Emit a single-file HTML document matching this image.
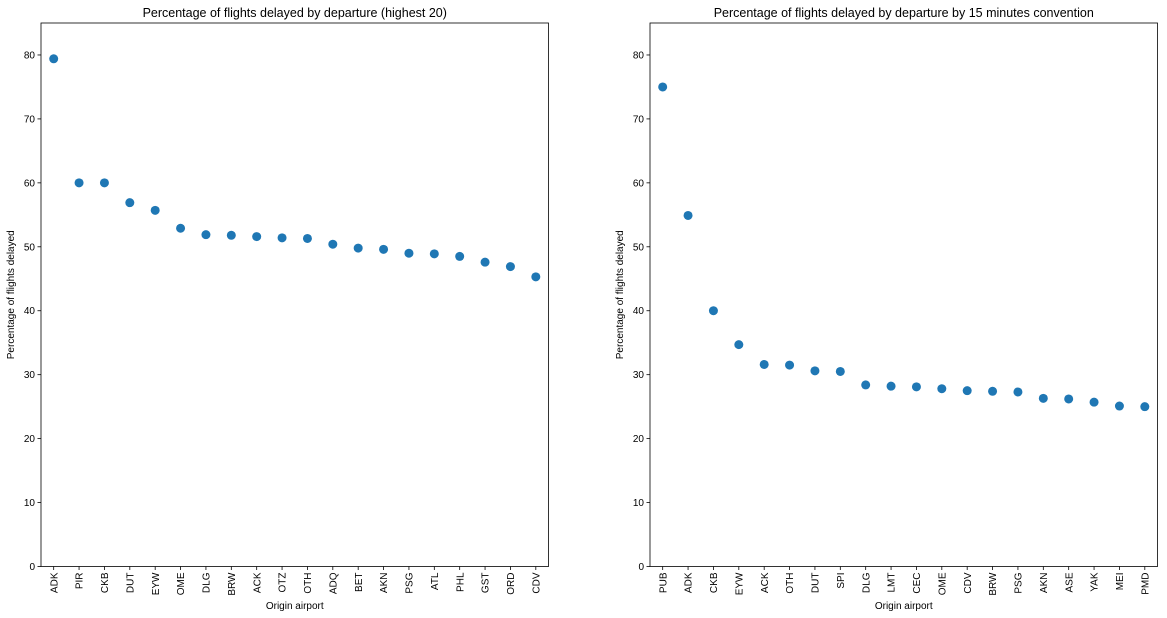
<!DOCTYPE html>
<html><head><meta charset="utf-8"><style>
body{margin:0;background:#fff;}
svg{display:block;font-family:"Liberation Sans","DejaVu Sans",sans-serif;}
</style></head><body>
<svg id="chart" width="1167" height="618" viewBox="0 0 1167 618" xmlns="http://www.w3.org/2000/svg"></svg>
<script>
const leftCategories=["ADK","PIR","CKB","DUT","EYW","OME","DLG","BRW","ACK","OTZ","OTH","ADQ","BET","AKN","PSG","ATL","PHL","GST","ORD","CDV"];
const leftValues=[79.4,60,60,56.9,55.7,52.9,51.9,51.8,51.6,51.4,51.3,50.4,49.8,49.6,49.0,48.9,48.5,47.6,46.9,45.3];
const rightCategories=["PUB","ADK","CKB","EYW","ACK","OTH","DUT","SPI","DLG","LMT","CEC","OME","CDV","BRW","PSG","AKN","ASE","YAK","MEI","PMD"];
const rightValues=[75,54.9,40,34.7,31.6,31.5,30.6,30.5,28.4,28.2,28.1,27.8,27.5,27.4,27.3,26.3,26.2,25.7,25.1,25.0];
const yTicks=[0,10,20,30,40,50,60,70,80];
const NS="http://www.w3.org/2000/svg";
const svg=document.getElementById('chart');
function mk(tag,attrs,parent,text){const e=document.createElementNS(NS,tag);for(const k in attrs)e.setAttribute(k,attrs[k]);if(text!==undefined)e.textContent=text;parent.appendChild(e);return e;}
function panel(name,x0,x1,title,cats,vals){
  const top=23,bottom=566.5,ymax=85;
  const g=mk('g',{},svg);
  
  
  const yS=v=>bottom-(v/ymax)*(bottom-top);
  const step=(x1-x0)/cats.length;
  const xS=i=>x0+step*(i+0.5);
  const t=mk('text',{x:(x0+x1)/2,y:17,'text-anchor':'middle','font-size':'12.5'},g,title);
  
  
  yTicks.forEach(v=>{
    const y=yS(v);
    mk('line',{x1:x0-3.5,x2:x0,y1:y,y2:y,stroke:'#000','stroke-width':0.8},g);
    const l=mk('text',{x:x0-6,y:y+3.5,'text-anchor':'end','font-size':'10'},g,v);
    
    
  });
  cats.forEach((c,i)=>{
    const x=xS(i);
    mk('line',{x1:x,x2:x,y1:bottom,y2:bottom+3.5,stroke:'#000','stroke-width':0.8},g);
    const l=mk('text',{x:0,y:0,'text-anchor':'end','font-size':'10',transform:`translate(${x+3.6},${bottom+6}) rotate(-90)`},g,c);
    
    
    const p=mk('circle',{cx:x,cy:yS(vals[i]),r:4.5,fill:'#1f77b4'},g);
    
    
  });
  const r=mk('rect',{x:x0,y:top,width:x1-x0,height:bottom-top,fill:'none',stroke:'#000','stroke-width':0.8},g);
  
  
  const xl=mk('text',{x:(x0+x1)/2,y:609,'text-anchor':'middle','font-size':'10'},g,'Origin airport');
  
  
  const yl=mk('text',{x:0,y:0,'text-anchor':'middle','font-size':'10',transform:`translate(${x0-27},${(top+bottom)/2}) rotate(-90)`},g,'Percentage of flights delayed');
  
  
}
panel('left-chart',41,548.5,'Percentage of flights delayed by departure (highest 20)',leftCategories,leftValues);
panel('right-chart',650,1157.5,'Percentage of flights delayed by departure by 15 minutes convention',rightCategories,rightValues);
</script>
</body></html>
